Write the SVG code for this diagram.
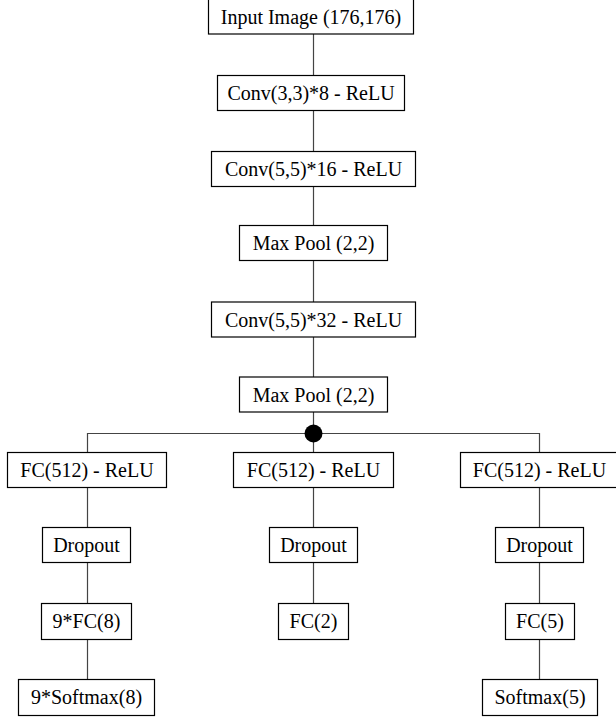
<svg xmlns="http://www.w3.org/2000/svg" width="616" height="719" viewBox="0 0 616 719">
<style>
.box{fill:#fff;stroke:#000;stroke-width:1.2}
.t{font-family:'Liberation Serif','Times New Roman','DejaVu Serif',serif;font-size:20px;fill:#000;text-anchor:middle}
.c{stroke:#444;stroke-width:1.2;fill:none}
</style>
<rect width="616" height="719" fill="#fff"/>
<g id="connectors">
<path class="c" d="M313.5 34V75M313.5 110V152M313.5 186V226M313.5 260V302M313.5 337V377M313.5 412V452"/>
<path class="c" d="M87.5 452V433.5H539.5V452"/>
<path class="c" d="M87.5 488V527M87.5 563V603M87.5 639V679"/>
<path class="c" d="M313.5 488V527M313.5 563V603"/>
<path class="c" d="M539.5 488V527M539.5 563V603M539.5 639V679"/>
<circle cx="313.5" cy="433.5" r="9" fill="#000"/>
</g>
<g id="input"><rect class="box" x="208.5" y="-1" width="205" height="35"/><text class="t" font-family="Liberation Serif, serif" x="311" y="24">Input Image (176,176)</text></g>
<g id="conv1"><rect class="box" x="217.5" y="75.5" width="187" height="35"/><text class="t" font-family="Liberation Serif, serif" x="311" y="100">Conv(3,3)*8 - ReLU</text></g>
<g id="conv2"><rect class="box" x="211.5" y="151.5" width="204" height="35"/><text class="t" font-family="Liberation Serif, serif" x="313.5" y="176">Conv(5,5)*16 - ReLU</text></g>
<g id="pool1"><rect class="box" x="239.5" y="225.5" width="148" height="35"/><text class="t" font-family="Liberation Serif, serif" x="313.5" y="250">Max Pool (2,2)</text></g>
<g id="conv3"><rect class="box" x="211.5" y="302" width="204" height="35"/><text class="t" font-family="Liberation Serif, serif" x="313.5" y="327">Conv(5,5)*32 - ReLU</text></g>
<g id="pool2"><rect class="box" x="239.5" y="377" width="148" height="35"/><text class="t" font-family="Liberation Serif, serif" x="313.5" y="402">Max Pool (2,2)</text></g>
<g id="fc1"><rect class="box" x="7.5" y="452.5" width="159" height="35"/><text class="t" font-family="Liberation Serif, serif" x="87" y="477">FC(512) - ReLU</text></g>
<g id="fc2"><rect class="box" x="233.5" y="452.5" width="160" height="35"/><text class="t" font-family="Liberation Serif, serif" x="313.5" y="477">FC(512) - ReLU</text></g>
<g id="fc3"><rect class="box" x="460.5" y="452.5" width="158" height="35"/><text class="t" font-family="Liberation Serif, serif" x="539.5" y="477">FC(512) - ReLU</text></g>
<g id="drop1"><rect class="box" x="42.5" y="527.5" width="88" height="35"/><text class="t" font-family="Liberation Serif, serif" x="86.5" y="552">Dropout</text></g>
<g id="drop2"><rect class="box" x="269.5" y="527.5" width="88" height="35"/><text class="t" font-family="Liberation Serif, serif" x="313.5" y="552">Dropout</text></g>
<g id="drop3"><rect class="box" x="495.5" y="527.5" width="88" height="35"/><text class="t" font-family="Liberation Serif, serif" x="539.5" y="552">Dropout</text></g>
<g id="fc8"><rect class="box" x="41.5" y="603.5" width="90" height="36"/><text class="t" font-family="Liberation Serif, serif" x="86.5" y="628">9*FC(8)</text></g>
<g id="fc2out"><rect class="box" x="278.5" y="603.5" width="70" height="36"/><text class="t" font-family="Liberation Serif, serif" x="313.5" y="628">FC(2)</text></g>
<g id="fc5"><rect class="box" x="505.5" y="603.5" width="69" height="36"/><text class="t" font-family="Liberation Serif, serif" x="540" y="628">FC(5)</text></g>
<g id="sm1"><rect class="box" x="18.5" y="679.5" width="136" height="36"/><text class="t" font-family="Liberation Serif, serif" x="86.5" y="704">9*Softmax(8)</text></g>
<g id="sm3"><rect class="box" x="482.5" y="679.5" width="115" height="36"/><text class="t" font-family="Liberation Serif, serif" x="540" y="704">Softmax(5)</text></g>
</svg>
